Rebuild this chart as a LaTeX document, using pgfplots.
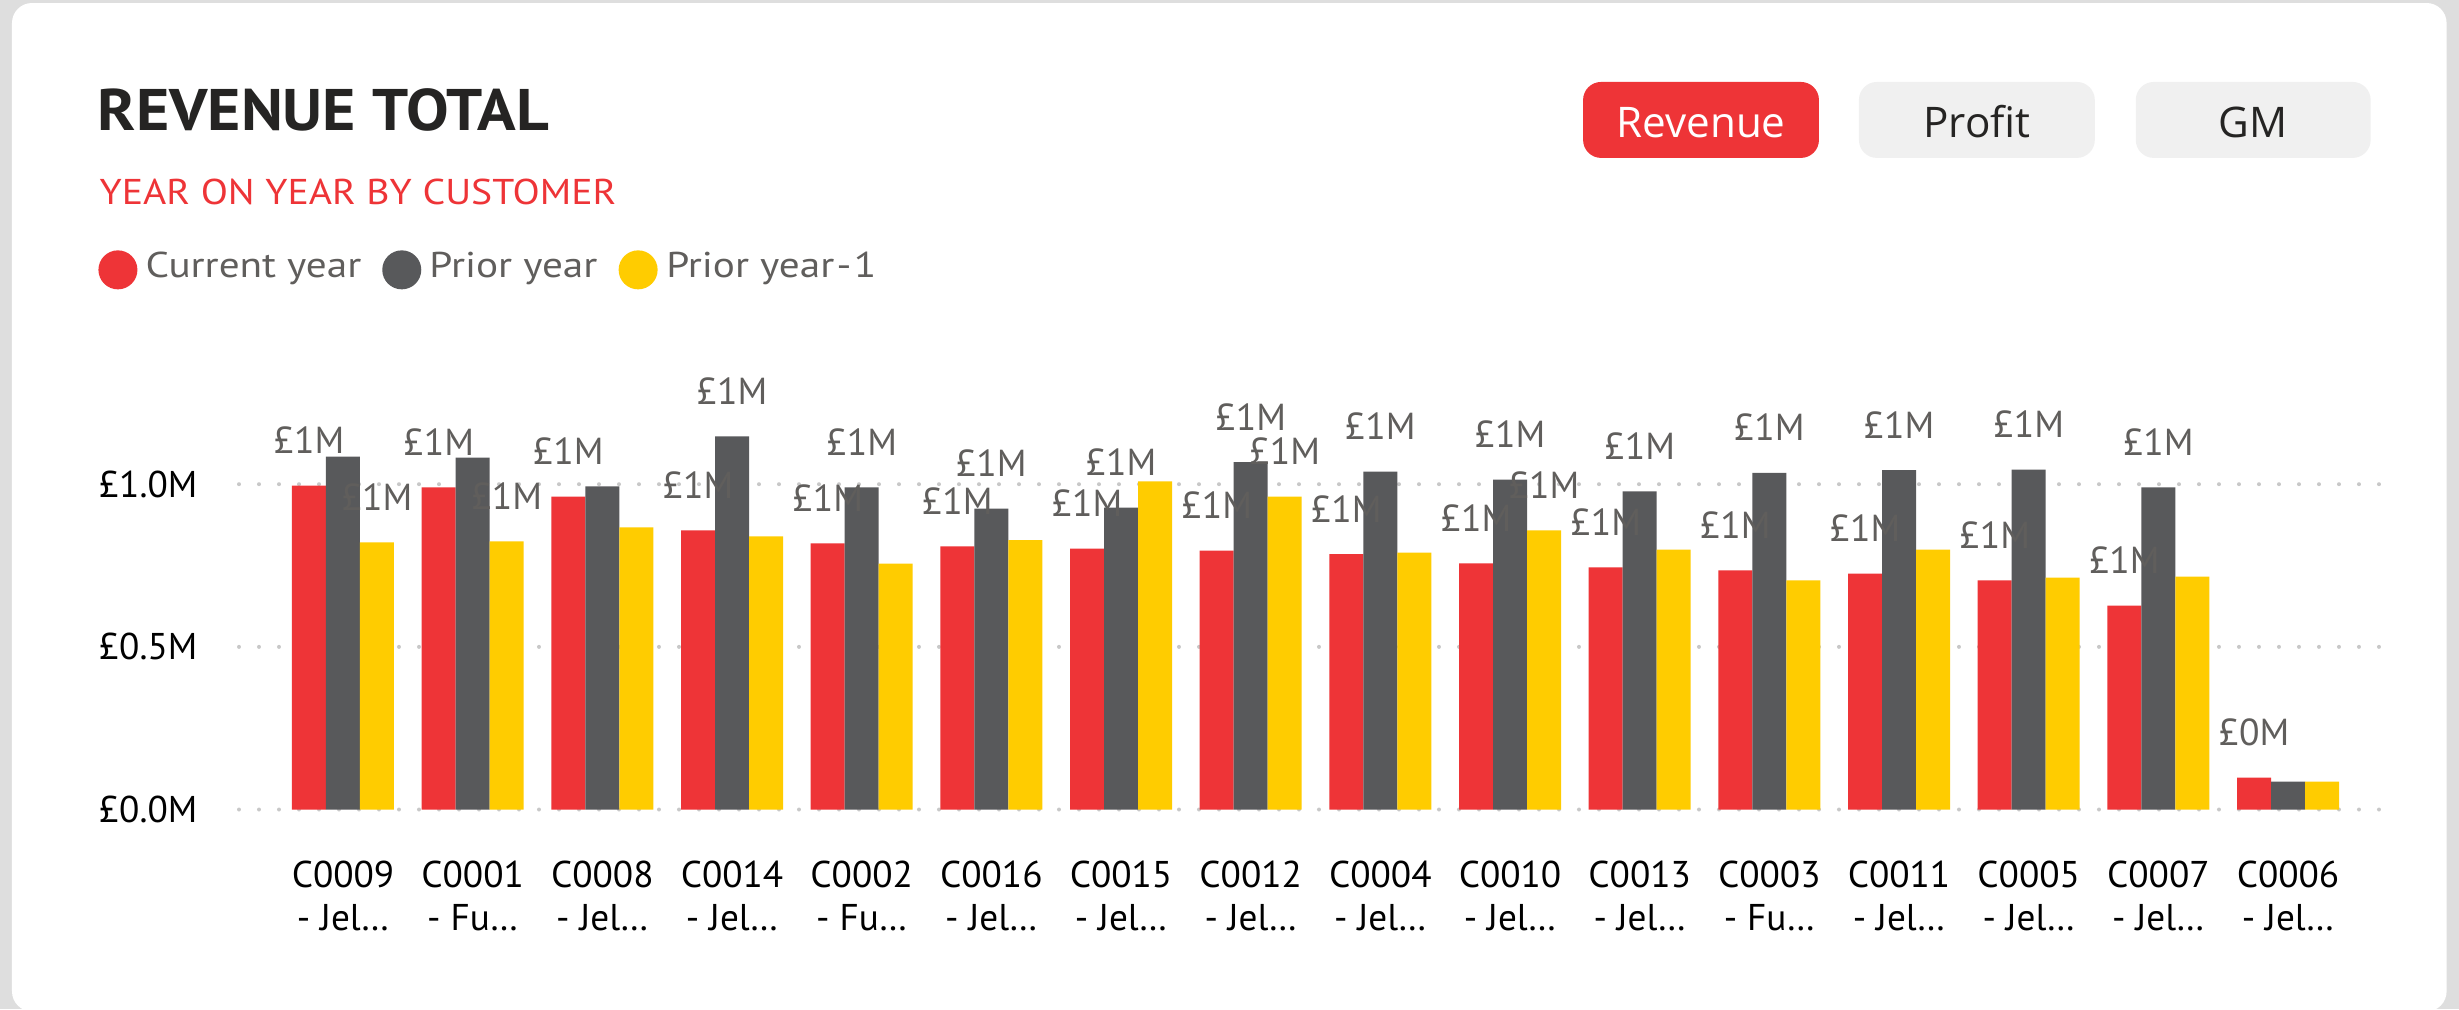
\documentclass[border=0pt]{standalone}
\usepackage{pgfplots}
\pgfplotsset{compat=1.18}
\usepackage{pgfplotstable}
\usepackage{fontspec}
\setmainfont{PT Sans}
\newfontfamily\btnfont{Open Sans}

\definecolor{cRed}{HTML}{EE3437}
\definecolor{cGray}{HTML}{58595B}
\definecolor{cYel}{HTML}{FFCC00}
\definecolor{cBg}{HTML}{DEDEDE}
\definecolor{cTitle}{HTML}{252423}
\definecolor{cLab}{HTML}{605E5C}
\definecolor{cGrid}{HTML}{C8C8C8}
\definecolor{cBtn}{HTML}{F0F0F0}

% Current year
\pgfplotstableread{
x y lab
0 0.996 £1M
1 0.990 £1M
2 0.962 £1M
3 0.858 £1M
4 0.818 £1M
5 0.809 £1M
6 0.802 £1M
7 0.796 £1M
8 0.785 £1M
9 0.757 £1M
10 0.744 £1M
11 0.735 £1M
12 0.725 £1M
13 0.704 £1M
14 0.627 £1M
15 0.098 £0M
}\tcur
% Prior year
\pgfplotstableread{
x y lab
0 1.085 {}
1 1.082 {}
2 0.993 {}
3 1.147 £1M
4 0.990 £1M
5 0.925 £1M
6 0.928 £1M
7 1.068 £1M
8 1.039 £1M
9 1.014 £1M
10 0.978 £1M
11 1.035 £1M
12 1.043 £1M
13 1.045 £1M
14 0.990 £1M
15 0.086 {}
}\tpri
% Prior year-1
\pgfplotstableread{
x y lab
0 0.821 £1M
1 0.824 £1M
2 0.867 {}
3 0.840 {}
4 0.756 {}
5 0.828 {}
6 1.009 {}
7 0.962 £1M
8 0.790 {}
9 0.858 £1M
10 0.799 {}
11 0.704 {}
12 0.799 {}
13 0.713 {}
14 0.716 {}
15 0.086 {}
}\tpritwo

\begin{document}
\begin{tikzpicture}
% background and card
\fill[cBg] (0,0) rectangle (24.59,10.09);
\begin{scope}[yshift=10.09cm, x=0.01cm, y=-0.01cm]
  \fill[white, rounded corners=0.2cm] (12,3) rectangle (2448,1012);
  % title
  \node[anchor=base west, inner sep=0pt, text=cTitle, font=\fontsize{16.7}{20}\selectfont\bfseries] at (97,131) {\scalebox{1.087}[1]{REVENUE TOTAL}};
  \node[anchor=base west, inner sep=0pt, text=cRed, font=\fontsize{10.2}{12}\selectfont] at (99,205) {\scalebox{1.11}[1]{YEAR ON YEAR BY CUSTOMER}};
  % legend
  \fill[cRed] (118,270) circle[radius=0.195cm];
  \fill[cGray] (402,270) circle[radius=0.195cm];
  \fill[cYel] (638.5,270) circle[radius=0.195cm];
  \node[anchor=base west, inner sep=0pt, text=cLab, font=\fontsize{10.2}{12}\selectfont] at (145,278) {\scalebox{1.15}[1]{Current year}};
  \node[anchor=base west, inner sep=0pt, text=cLab, font=\fontsize{10.2}{12}\selectfont] at (429,278) {\scalebox{1.15}[1]{Prior year}};
  \node[anchor=base west, inner sep=0pt, text=cLab, font=\fontsize{10.2}{12}\selectfont] at (666,278) {\scalebox{1.15}[1]{Prior year\kern0.6pt-\kern0.6pt1}};
  % buttons
  \fill[cRed, rounded corners=0.18cm] (1584,82) rectangle (1820,158);
  \fill[cBtn, rounded corners=0.18cm] (1860,82) rectangle (2096,158);
  \fill[cBtn, rounded corners=0.18cm] (2137,82) rectangle (2372,158);
  \node[anchor=base, inner sep=0pt, text=white, font=\btnfont\fontsize{12}{14}\selectfont] at (1702,138) {Revenue};
  \node[anchor=base, inner sep=0pt, text=cTitle, font=\btnfont\fontsize{12}{14}\selectfont] at (1978,138) {Profit};
  \node[anchor=base, inner sep=0pt, text=cTitle, font=\btnfont\fontsize{12}{14}\selectfont] at (2254.5,138) {GM};
\end{scope}

\begin{axis}[
  at={(2.39cm,1.995cm)}, anchor=south west,
  scale only axis, width=21.42cm, height=4.229cm,
  xmin=-0.802, xmax=15.717, ymin=0, ymax=1.3,
  ybar=0pt, bar width=0.34cm,
  axis line style={draw=none}, tick style={draw=none},
  ytick={0,0.5,1}, yticklabels={£0.0M,£0.5M,£1.0M},
  xtick={0,...,15},
  xticklabels={{C0009\\- Jel…},{C0001\\- Fu…},{C0008\\- Jel…},{C0014\\- Jel…},{C0002\\- Fu…},{C0016\\- Jel…},{C0015\\- Jel…},{C0012\\- Jel…},{C0004\\- Jel…},{C0010\\- Jel…},{C0013\\- Jel…},{C0003\\- Fu…},{C0011\\- Jel…},{C0005\\- Jel…},{C0007\\- Jel…},{C0006\\- Jel…}},
  ymajorgrids,
  major grid style={cGrid, line width=0.04cm, dash pattern=on 0pt off 0.2cm, line cap=round},
  yticklabel style={anchor=east, inner sep=0pt, xshift=-0.41cm, text=black, font=\fontsize{10.6}{12}\selectfont},
  xticklabel style={anchor=north, inner sep=0pt, yshift=-0.355cm, align=center, text=black, font=\fontsize{10.6}{12.2}\selectfont},
  nodes near coords, point meta=explicit symbolic,
  every node near coord/.append style={anchor=base, inner sep=0pt, yshift=0.32cm, text=cLab, font=\fontsize{10.7}{12}\selectfont},
  clip=false,
]
\addplot[draw=none, fill=cRed] table[x=x, y=y, meta=lab] {\tcur};
\addplot[draw=none, fill=cGray] table[x=x, y=y, meta=lab] {\tpri};
\addplot[draw=none, fill=cYel] table[x=x, y=y, meta=lab] {\tpritwo};
\end{axis}
\pgfresetboundingbox
\path[use as bounding box] (0,0) rectangle (24.59,10.09);
\end{tikzpicture}
\end{document}
